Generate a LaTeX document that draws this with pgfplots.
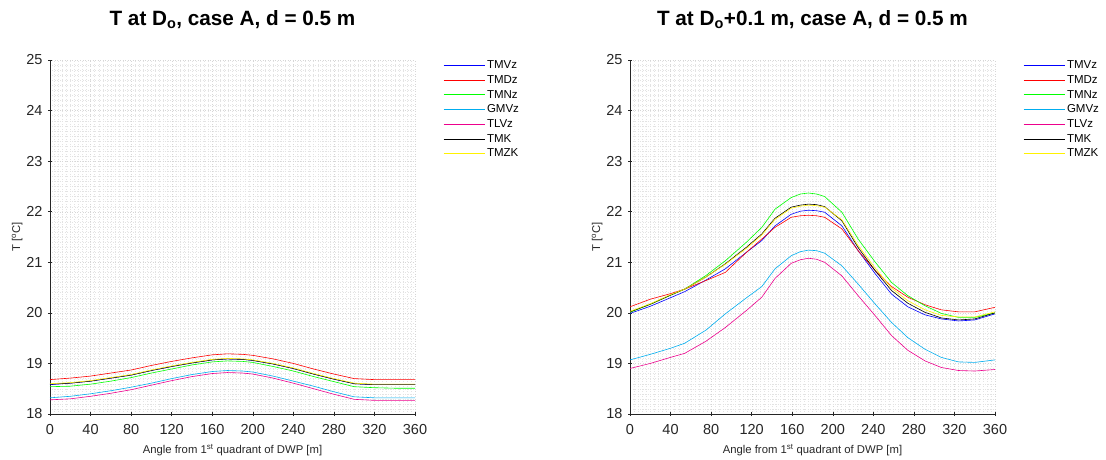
\documentclass[border=0pt]{standalone}
\usepackage{fontspec}
\setmainfont{Liberation Sans}
\usepackage{pgfplots}
\usepackage{pgfplotstable}
\pgfplotsset{compat=1.18}

% case A, d = 0.5 m, at D_o
\pgfplotstableread{
ang   TMVz   TMDz   TMNz   GMVz   TLVz   TMK    TMZK
0     18.58  18.68  18.54  18.32  18.28  18.59  18.60
20    18.61  18.71  18.55  18.35  18.30  18.61  18.62
40    18.65  18.75  18.59  18.40  18.35  18.65  18.66
60    18.71  18.81  18.65  18.46  18.41  18.71  18.72
80    18.77  18.87  18.72  18.53  18.48  18.77  18.78
100   18.86  18.96  18.81  18.61  18.57  18.86  18.87
120   18.94  19.04  18.89  18.70  18.66  18.94  18.95
140   19.01  19.11  18.97  18.78  18.74  19.01  19.02
160   19.07  19.17  19.03  18.84  18.80  19.07  19.08
175   19.09  19.19  19.05  18.86  18.82  19.09  19.10
190   19.08  19.18  19.04  18.85  18.81  19.08  19.09
200   19.06  19.16  19.02  18.83  18.79  19.06  19.07
220   18.99  19.09  18.94  18.75  18.71  18.99  19.00
240   18.90  19.00  18.85  18.65  18.61  18.90  18.91
260   18.79  18.89  18.74  18.55  18.50  18.79  18.80
280   18.69  18.79  18.64  18.44  18.39  18.69  18.70
300   18.60  18.70  18.54  18.34  18.29  18.60  18.61
310   18.59  18.69  18.53  18.33  18.28  18.59  18.60
320   18.58  18.68  18.52  18.32  18.27  18.58  18.59
340   18.58  18.68  18.51  18.32  18.27  18.58  18.59
360   18.58  18.68  18.51  18.32  18.27  18.58  18.59
}\dataA

% case A, d = 0.5 m, at D_o + 0.1 m
\pgfplotstableread{
ang   TMVz   TMDz   TMNz   GMVz   TLVz   TMK    TMZK
0     19.99  20.12  20.01  19.07  18.90  20.02  20.03
20    20.13  20.27  20.17  19.18  19.00  20.17  20.18
40    20.30  20.38  20.35  19.30  19.12  20.35  20.36
54    20.42  20.47  20.47  19.40  19.20  20.47  20.47
75    20.65  20.64  20.74  19.66  19.44  20.71  20.71
94    20.87  20.80  21.03  19.98  19.71  20.97  20.96
115   21.20  21.20  21.40  20.30  20.05  21.30  21.28
130   21.43  21.46  21.69  20.52  20.31  21.56  21.54
143   21.72  21.69  22.05  20.87  20.68  21.87  21.85
159   21.95  21.89  22.28  21.13  20.98  22.09  22.07
168   22.01  21.92  22.35  21.21  21.05  22.13  22.11
176   22.03  21.93  22.37  21.24  21.08  22.15  22.13
184   22.02  21.92  22.35  21.23  21.06  22.14  22.12
192   21.99  21.89  22.30  21.18  21.00  22.10  22.09
209   21.72  21.66  21.99  20.93  20.73  21.82  21.84
225   21.23  21.23  21.46  20.57  20.34  21.29  21.33
242   20.77  20.83  21.00  20.17  19.94  20.83  20.88
258   20.37  20.52  20.60  19.81  19.55  20.44  20.49
274   20.12  20.31  20.34  19.51  19.26  20.19  20.24
291   19.96  20.16  20.14  19.28  19.05  20.01  20.06
307   19.88  20.06  19.99  19.12  18.92  19.90  19.95
324   19.84  20.02  19.91  19.03  18.86  19.86  19.92
340   19.86  20.02  19.91  19.02  18.85  19.88  19.92
360   19.98  20.11  20.00  19.07  18.88  20.00  20.02
}\dataB

\definecolor{axgray}{RGB}{38,38,38}

\pgfplotsset{
  tcurve/.style={
    scale only axis, width=365pt, height=354pt,
    xmin=0, xmax=360, ymin=18, ymax=25,
    xtick={0,40,...,360}, ytick={18,...,25},
    minor x tick num=9, minor y tick num=9,
    minor tick length=0pt, major tick length=4pt,
    tick align=inside,
    axis x line=bottom, axis y line=left,
    axis line style={-, axgray, line width=0.5pt},
    every tick/.style={axgray, line width=0.5pt},
    grid=both,
    major grid style={black!16, line width=0.3pt, dash pattern=on 0.5pt off 2pt},
    minor grid style={black!11, line width=0.3pt, dash pattern=on 0.5pt off 2pt},
    /pgf/number format/assume math mode=true,
    tick label style={font=\fontsize{14.5}{16}\selectfont, text=axgray},
    xticklabel style={yshift=-5pt},
    yticklabel style={xshift=-2pt},
    xlabel={Angle from 1\textsuperscript{st} quadrant of DWP [m]},
    ylabel={T [\textsuperscript{o}C]},
    label style={font=\fontsize{11.3}{13}\selectfont, text=axgray},
    xlabel style={at={(axis description cs:0.5,0)}, anchor=base, yshift=-39pt},
    ylabel style={at={(axis description cs:-0.09,0.5)}, anchor=center},
    title style={at={(axis description cs:0.5,1)}, anchor=base, yshift=29pt,
      font=\fontsize{20.7}{22}\selectfont\bfseries},
    legend style={draw=none, fill=none, at={(1,1)}, anchor=north west,
      xshift=28pt, yshift=1pt, inner sep=0pt, row sep=2.2pt, column sep=1pt,
      font=\fontsize{11.5}{12}\selectfont,
      nodes={inner sep=1pt, text height=8.5pt, text depth=2pt}},
    legend cell align=left,
    legend image code/.code={\draw[line width=0.8pt, #1] (0pt,0pt) -- (41pt,0pt);},
    every axis plot/.append style={line width=0.6pt, mark=none},
  }
}

\begin{document}
\begin{tikzpicture}
\path[use as bounding box] (0pt,0pt) rectangle (1106pt,459pt);

\begin{axis}[tcurve, at={(50pt,45pt)}, anchor=south west,
  title={T at D\textsubscript{o}, case A, d = 0.5 m}]
  \addplot[blue]    table[x=ang, y=TMVz] {\dataA};
  \addplot[red]     table[x=ang, y=TMDz] {\dataA};
  \addplot[green]   table[x=ang, y=TMNz] {\dataA};
  \addplot[cyan]    table[x=ang, y=GMVz] {\dataA};
  \addplot[magenta] table[x=ang, y=TLVz] {\dataA};
  \addplot[black]   table[x=ang, y=TMK]  {\dataA};
  \addplot[yellow]  table[x=ang, y=TMZK] {\dataA};
  \legend{TMVz, TMDz, TMNz, GMVz, TLVz, TMK, TMZK}
\end{axis}

\begin{axis}[tcurve, at={(630pt,45pt)}, anchor=south west,
  title={T at D\textsubscript{o}+0.1 m, case A, d = 0.5 m}]
  \addplot[blue]    table[x=ang, y=TMVz] {\dataB};
  \addplot[red]     table[x=ang, y=TMDz] {\dataB};
  \addplot[green]   table[x=ang, y=TMNz] {\dataB};
  \addplot[cyan]    table[x=ang, y=GMVz] {\dataB};
  \addplot[magenta] table[x=ang, y=TLVz] {\dataB};
  \addplot[black]   table[x=ang, y=TMK]  {\dataB};
  \addplot[yellow]  table[x=ang, y=TMZK] {\dataB};
  \legend{TMVz, TMDz, TMNz, GMVz, TLVz, TMK, TMZK}
\end{axis}
\end{tikzpicture}
\end{document}
